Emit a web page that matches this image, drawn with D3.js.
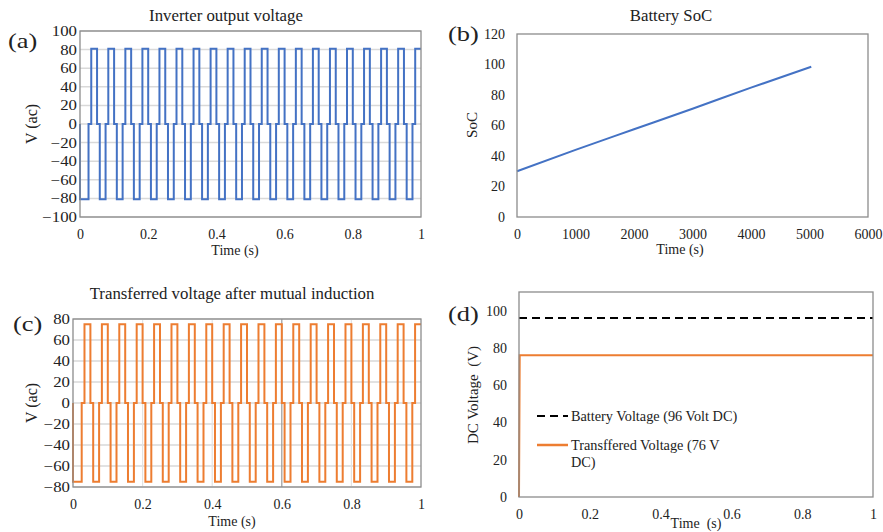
<!DOCTYPE html>
<html><head><meta charset="utf-8">
<script src="https://cdn.jsdelivr.net/npm/d3@7"></script>
<style>
body{margin:0;background:#fff;}
svg text{font-family:"Liberation Serif","Times New Roman",serif !important;fill:#222;}
</style></head>
<body><svg id="c" width="883" height="532"></svg>
<script>
// ---------- DATA ----------
// edge times (s) shared by the quasi-square waveforms of panels (a) and (c)
const waveTimes = [0,0,0.025,0.033,0.050,0.058,0.075,0.083,0.100,0.108,0.125,0.133,0.150,0.158,
 0.175,0.183,0.200,0.208,0.225,0.233,0.250,0.258,0.275,0.283,0.300,0.308,0.325,0.333,0.350,0.358,
 0.375,0.383,0.400,0.408,0.425,0.433,0.450,0.458,0.475,0.483,0.500,0.508,0.525,0.533,0.550,0.558,
 0.575,0.583,0.600,0.608,0.625,0.633,0.650,0.658,0.675,0.683,0.700,0.708,0.725,0.733,0.750,0.758,
 0.775,0.783,0.800,0.808,0.825,0.833,0.850,0.858,0.875,0.883,0.900,0.908,0.925,0.933,0.950,0.958,
 0.975,0.983,1.000];
// inverter output voltage level after each edge (V ac)
const inverterV = [0,-81,0,81,0,-81,0,81,0,-81,0,81,0,-81,0,81,0,-81,0,81,0,-81,0,81,0,-81,0,81,0,-81,
 0,81,0,-81,0,81,0,-81,0,81,0,-81,0,81,0,-81,0,81,0,-81,0,81,0,-81,0,81,0,-81,0,81,0,-81,
 0,81,0,-81,0,81,0,-81,0,81,0,-81,0,81,0,-81,0,81,81];
// transferred voltage level after each edge (V ac)
const transferV = [0,-75,0,75,0,-75,0,75,0,-75,0,75,0,-75,0,75,0,-75,0,75,0,-75,0,75,0,-75,0,75,0,-75,
 0,75,0,-75,0,75,0,-75,0,75,0,-75,0,75,0,-75,0,75,0,-75,0,75,0,-75,0,75,0,-75,0,75,0,-75,
 0,75,0,-75,0,75,0,-75,0,75,0,-75,0,75,0,-75,0,75,75];
// battery SoC
const socTime = [0,1000,2000,3000,4000,5030];
const socVal  = [30,44,57.5,71,84.8,98.5];
// DC voltages
const battTime = [0,1];
const battVal  = [96,96];
const dcTime = [0,0.002,1];
const dcVal  = [0,76,76];

const voltTicksA = [-100,-80,-60,-40,-20,0,20,40,60,80,100];
const voltTicksC = [-80,-60,-40,-20,0,20,40,60,80];
const timeTicks = [0,0.2,0.4,0.6,0.8,1];
const socTicksY = [0,20,40,60,80,100,120];
const socTicksX = [0,1000,2000,3000,4000,5000,6000];
const dcTicksY = [0,20,40,60,80,100];

const titles = ["Inverter output voltage","Battery SoC","Transferred voltage after mutual induction"];
const letters = ["(a)","(b)","(c)","(d)"];
const legendLabels = ["Battery Voltage (96 Volt DC)","Transffered Voltage (76 V","DC)"];

const BLUE="#4472C4", ORANGE="#ED7D31", GRID="#d9d9d9", FRAME="#8c8c8c";
const FONT='"Liberation Serif","Times New Roman",serif';
const svg = d3.select("#c");
const fmtT = d => d===0?"0":d===1?"1":d3.format(".1f")(d);

function panel(o){
  const g = svg.append("g");
  const x = d3.scaleLinear().domain(o.xd).range([o.l,o.r]);
  const y = d3.scaleLinear().domain(o.yd).range([o.b,o.t]);
  if(o.hgrid){
    g.selectAll(null).data(o.yt).enter().append("line")
      .attr("x1",o.l).attr("x2",o.r).attr("y1",d=>y(d)).attr("y2",d=>y(d))
      .attr("stroke",GRID).attr("stroke-width",1.5);
  }
  if(o.vgrid){
    g.selectAll(null).data(o.vgrid).enter().append("line")
      .attr("y1",o.t).attr("y2",o.b).attr("x1",d=>x(d[0])).attr("x2",d=>x(d[0]))
      .attr("stroke",d=>d[1]).attr("stroke-width",1.2);
  }
  const ysx = o.ysx||1;
  const ya = g.append("g").attr("transform",`translate(${o.l},0)`)
    .call(d3.axisLeft(y).tickValues(o.yt).tickSize(0).tickPadding(o.ypad/ysx).tickFormat(d3.format("d")));
  const xa = g.append("g").attr("transform",`translate(0,${o.b})`)
    .call(d3.axisBottom(x).tickValues(o.xt).tickSize(0).tickPadding(o.xpad).tickFormat(o.xf||d3.format("d")));
  [ya,xa].forEach(a=>{a.select(".domain").remove();
    a.selectAll("text").style("font-family",FONT).attr("font-size",14).attr("fill","#222");});
  ya.selectAll("text").attr("transform",`scale(${ysx},1)`);
  return {g,x,y};
}

function frame(g,o){
  g.append("rect").attr("x",o.l).attr("y",o.t).attr("width",o.r-o.l).attr("height",o.b-o.t)
    .attr("fill","none").attr("stroke",FRAME).attr("stroke-width",1.3);
}

function txt(t,x,y,size,opt){
  opt = opt||{};
  const s = opt.sx||1;
  const tr = `translate(${x},${y})` + (opt.rot?" rotate(-90)":"") + ` scale(${s},1)`;
  return svg.append("text").attr("transform",tr).attr("font-size",size)
    .style("font-family",FONT).style("white-space","pre")
    .attr("text-anchor",opt.anchor||"middle").text(t);
}

// ---- (a)
const oA = {l:80,r:421,t:31,b:217,xd:[0,1],yd:[-100,100],xt:timeTicks,yt:voltTicksA,xf:fmtT,hgrid:true,ypad:3,xpad:12,ysx:1.2};
const A = panel(oA);
A.g.append("path").datum(waveTimes.map((t,i)=>[t,inverterV[i]]))
  .attr("d",d3.line().x(d=>A.x(d[0])).y(d=>A.y(d[1])).curve(d3.curveStepAfter))
  .attr("fill","none").attr("stroke",BLUE).attr("stroke-width",2);
frame(A.g,oA);

// ---- (b)
const oB = {l:517,r:868,t:34,b:217,xd:[0,6000],yd:[0,120],xt:socTicksX,yt:socTicksY,ypad:12,xpad:12};
const B = panel(oB);
B.g.append("path").datum(socTime.map((t,i)=>[t,socVal[i]]))
  .attr("d",d3.line().x(d=>B.x(d[0])).y(d=>B.y(d[1])).curve(d3.curveMonotoneX))
  .attr("fill","none").attr("stroke",BLUE).attr("stroke-width",2);
frame(B.g,oB);

// ---- (c)
const oC = {l:73,r:421,t:319,b:487,xd:[0,1],yd:[-80,80],xt:timeTicks,yt:voltTicksC,xf:fmtT,hgrid:true,ypad:3,xpad:12,ysx:1.2,
  vgrid:[[0.2,"#e3e3e3"],[0.4,"#e3e3e3"],[0.6,"#9a9a9a"],[0.8,"#e3e3e3"]]};
const C = panel(oC);
C.g.append("path").datum(waveTimes.map((t,i)=>[t,transferV[i]]))
  .attr("d",d3.line().x(d=>C.x(d[0])).y(d=>C.y(d[1])).curve(d3.curveStepAfter))
  .attr("fill","none").attr("stroke",ORANGE).attr("stroke-width",2);
frame(C.g,oC);

// ---- (d)
const oD = {l:519,r:873,t:292,b:497,xd:[0,1],yd:[0,110],xt:timeTicks,yt:dcTicksY,xf:fmtT,ypad:12,xpad:12};
const D = panel(oD);
D.g.append("path").datum(battTime.map((t,i)=>[t,battVal[i]]))
  .attr("d",d3.line().x(d=>D.x(d[0])).y(d=>D.y(d[1])))
  .attr("fill","none").attr("stroke","#000").attr("stroke-width",2).attr("stroke-dasharray","8,5");
D.g.append("path").datum(dcTime.map((t,i)=>[t,dcVal[i]]))
  .attr("d",d3.line().x(d=>D.x(d[0])).y(d=>D.y(d[1])))
  .attr("fill","none").attr("stroke",ORANGE).attr("stroke-width",2);
frame(D.g,oD);
// legend
svg.append("line").attr("x1",537).attr("x2",568).attr("y1",416).attr("y2",416)
  .attr("stroke","#000").attr("stroke-width",2).attr("stroke-dasharray","8,5");
svg.append("line").attr("x1",537).attr("x2",568).attr("y1",445).attr("y2",445)
  .attr("stroke",ORANGE).attr("stroke-width",2.5);
txt(legendLabels[0],571,421,14,{anchor:"start",sx:1.02});
txt(legendLabels[1],571,450,14,{anchor:"start",sx:1.02});
txt(legendLabels[2],571,467,14,{anchor:"start",sx:1.02});

// titles, letters, axis labels
txt(titles[0],226,21,16,{sx:1.05});
txt(titles[1],671,21,16,{sx:1.05});
txt(titles[2],232,299,16,{sx:1.05});
txt(letters[0],8,48,22,{anchor:"start",sx:1.2});
txt(letters[1],448,41,22,{anchor:"start",sx:1.2});
txt(letters[2],13,331,22,{anchor:"start",sx:1.2});
txt(letters[3],448,321,22,{anchor:"start",sx:1.2});
txt("Time (s)",235,255,14);
txt("Time (s)",680,254,14);
txt("Time (s)",232,526,14);
txt("Time  (s)",696,528,14);
txt("V (ac)",37,124,16,{rot:true});
txt("SoC",477,125,15,{rot:true});
txt("V (ac)",37,403,16,{rot:true});
txt("DC Voltage  (V)",478,395,15,{rot:true});
</script></body></html>
